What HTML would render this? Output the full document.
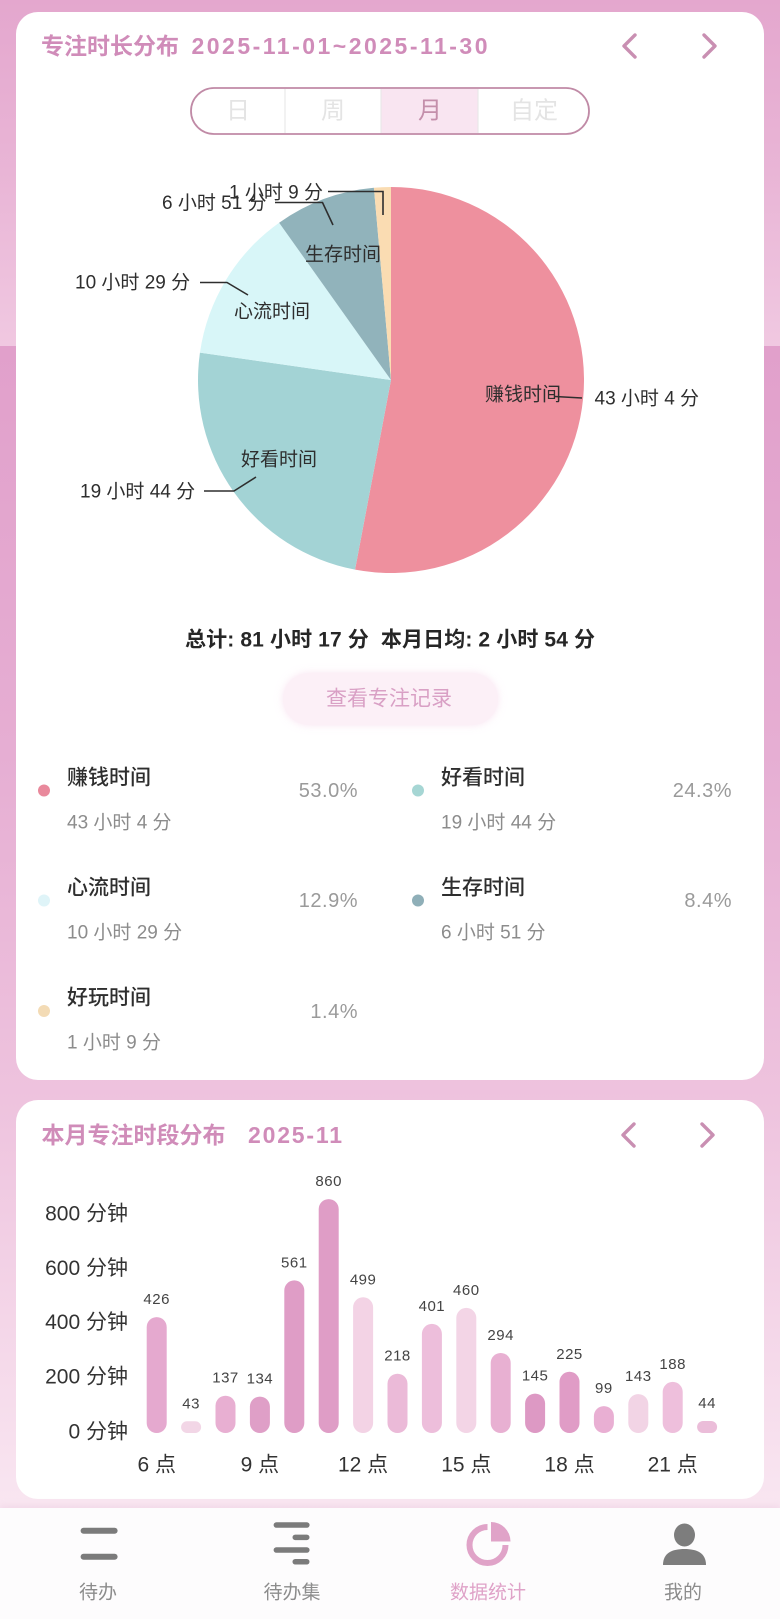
<!DOCTYPE html>
<html>
<head>
<meta charset="utf-8">
<style>
  html, body { margin:0; padding:0; }
  body {
    width:780px; height:1619px; overflow:hidden; position:relative;
    font-family:"Liberation Sans","Noto Sans CJK SC",sans-serif;
    background:#f9e6f1;
  }
  .bg1 { position:absolute; left:0; top:0; width:780px; height:346px;
    background:linear-gradient(180deg,#e4a7ce 0%,#e9b5d6 50%,#f0c8e1 100%); }
  .bg2 { position:absolute; left:0; top:346px; width:780px; height:1162px;
    background:linear-gradient(180deg,#e1a0cb 0%,#e6aed3 35%,#eec3de 65%,#f9e6f1 100%); }
  .card { position:absolute; background:#fff; border-radius:22px; }
  .nav { position:absolute; left:0; top:1508px; width:780px; height:111px; background:#fdfcfd;
    box-shadow:0 -2px 6px rgba(230,190,215,0.35); }
  svg { position:absolute; left:0; top:0; }
  text { font-family:"Liberation Sans","Noto Sans CJK SC",sans-serif; }
</style>
</head>
<body>
<div class="bg1"></div>
<div class="bg2"></div>
<div class="card" style="left:16px;top:12px;width:748px;height:1068px;"></div>
<div class="card" style="left:16px;top:1100px;width:748px;height:399px;"></div>
<div class="nav"></div>

<svg width="780" height="1619" viewBox="0 0 780 1619" xmlns="http://www.w3.org/2000/svg">
  <!-- Card 1 title -->
  <text x="41" y="46" font-size="23" font-weight="700" fill="#d08cb9" dominant-baseline="central">专注时长分布</text>
  <text x="191.5" y="46" font-size="23" font-weight="700" fill="#d08cb9" dominant-baseline="central" textLength="296" lengthAdjust="spacing">2025-11-01~2025-11-30</text>
  <polyline points="635,35 624,46 635,57" fill="none" stroke="#c98fb2" stroke-width="3.4" stroke-linecap="round" stroke-linejoin="round"/>
  <polyline points="704,35 715,46 704,57" fill="none" stroke="#c98fb2" stroke-width="3.4" stroke-linecap="round" stroke-linejoin="round"/>

  <!-- Segmented control -->
  <rect x="191" y="88" width="398" height="46" rx="23" fill="#fff" stroke="#c08aa6" stroke-width="1.8"/>
  <rect x="381" y="89" width="97" height="44" fill="#f9e5f1"/>
  <line x1="285" y1="89" x2="285" y2="133" stroke="#e6e6e6" stroke-width="1"/>
  <line x1="381" y1="89" x2="381" y2="133" stroke="#e6e6e6" stroke-width="1"/>
  <line x1="478" y1="89" x2="478" y2="133" stroke="#e6e6e6" stroke-width="1"/>
  <text x="238" y="111" font-size="24" fill="#e4e4e4" text-anchor="middle" dominant-baseline="central">日</text>
  <text x="333" y="111" font-size="24" fill="#e4e4e4" text-anchor="middle" dominant-baseline="central">周</text>
  <text x="430" y="111" font-size="24" fill="#c48fab" text-anchor="middle" dominant-baseline="central">月</text>
  <text x="534" y="111" font-size="24" fill="#e4e4e4" text-anchor="middle" dominant-baseline="central">自定</text>

  <!-- Pie -->
  <path d="M391,380 L391,187 A193,193 0 1 1 355.04,569.62 Z" fill="#ee909e"/>
  <path d="M391,380 L355.04,569.62 A193,193 0 0 1 199.95,352.67 Z" fill="#a3d3d5"/>
  <path d="M391,380 L199.95,352.67 A193,193 0 0 1 279.13,222.73 Z" fill="#d8f6f8"/>
  <path d="M391,380 L279.13,222.73 A193,193 0 0 1 373.88,187.76 Z" fill="#91b3bb"/>
  <path d="M391,380 L373.88,187.76 A193,193 0 0 1 391,187 Z" fill="#fadcb2"/>

  <!-- Leader lines -->
  <g fill="none" stroke="#2e2e2e" stroke-width="1.6">
    <polyline points="328,191.5 383,191.5 383,215"/>
    <polyline points="275,202.5 322.5,202.5 333,225"/>
    <polyline points="200,282.5 227,282.5 248,295"/>
    <polyline points="204,491 234,491 256,477"/>
    <polyline points="555,396.5 582,398"/>
  </g>

  <!-- Pie labels -->
  <g font-size="19" fill="#2e2e2e" dominant-baseline="central">
    <text x="162" y="203.5">6 小时 51 分</text>
    <text x="229" y="193">1 小时 9 分</text>
    <text x="305" y="255">生存时间</text>
    <text x="75" y="283">10 小时 29 分</text>
    <text x="234" y="312">心流时间</text>
    <text x="485" y="395">赚钱时间</text>
    <text x="594.5" y="399">43 小时 4 分</text>
    <text x="241" y="460">好看时间</text>
    <text x="80" y="492">19 小时 44 分</text>
  </g>

  <!-- Summary -->
  <text x="390" y="640" font-size="21" font-weight="700" fill="#262626" text-anchor="middle" dominant-baseline="central" textLength="410" lengthAdjust="spacing" xml:space="preserve">总计: 81 小时 17 分  本月日均: 2 小时 54 分</text>

  <!-- Button -->
  <rect x="283" y="673" width="215" height="52" rx="26" fill="#fcf0f7" style="filter:drop-shadow(0 0 4px rgba(245,210,232,0.6))"/>
  <text x="389" y="699" font-size="21" fill="#d9a0c5" text-anchor="middle" dominant-baseline="central">查看专注记录</text>

  <!-- Legend -->
  <g dominant-baseline="central">
    <circle cx="44" cy="790.5" r="6" fill="#e9899c"/>
    <text x="67" y="778" font-size="21" font-weight="500" fill="#2e2e2e">赚钱时间</text>
    <text x="67" y="823" font-size="19" fill="#8c8c8c">43 小时 4 分</text>
    <text x="358" y="791" font-size="20" fill="#9a9a9a" text-anchor="end" letter-spacing="0.5">53.0%</text>

    <circle cx="418" cy="790.5" r="6" fill="#a6d6d4"/>
    <text x="441" y="778" font-size="21" font-weight="500" fill="#2e2e2e">好看时间</text>
    <text x="441" y="823" font-size="19" fill="#8c8c8c">19 小时 44 分</text>
    <text x="732" y="791" font-size="20" fill="#9a9a9a" text-anchor="end" letter-spacing="0.5">24.3%</text>

    <circle cx="44" cy="900.5" r="6" fill="#dff4f8"/>
    <text x="67" y="888" font-size="21" font-weight="500" fill="#2e2e2e">心流时间</text>
    <text x="67" y="933" font-size="19" fill="#8c8c8c">10 小时 29 分</text>
    <text x="358" y="901" font-size="20" fill="#9a9a9a" text-anchor="end" letter-spacing="0.5">12.9%</text>

    <circle cx="418" cy="900.5" r="6" fill="#8fafb8"/>
    <text x="441" y="888" font-size="21" font-weight="500" fill="#2e2e2e">生存时间</text>
    <text x="441" y="933" font-size="19" fill="#8c8c8c">6 小时 51 分</text>
    <text x="732" y="901" font-size="20" fill="#9a9a9a" text-anchor="end" letter-spacing="0.5">8.4%</text>

    <circle cx="44" cy="1011" r="6" fill="#f3dbb5"/>
    <text x="67" y="998" font-size="21" font-weight="500" fill="#2e2e2e">好玩时间</text>
    <text x="67" y="1043" font-size="19" fill="#8c8c8c">1 小时 9 分</text>
    <text x="358" y="1012" font-size="20" fill="#9a9a9a" text-anchor="end" letter-spacing="0.5">1.4%</text>
  </g>

  <!-- Card 2 title -->
  <text x="41.5" y="1135" font-size="23" font-weight="700" fill="#d08cb9" dominant-baseline="central">本月专注时段分布</text>
  <text x="248" y="1135" font-size="23" font-weight="700" fill="#d08cb9" dominant-baseline="central" textLength="94" lengthAdjust="spacing">2025-11</text>
  <polyline points="634,1124 623,1135 634,1146" fill="none" stroke="#c98fb2" stroke-width="3.4" stroke-linecap="round" stroke-linejoin="round"/>
  <polyline points="702,1124 713,1135 702,1146" fill="none" stroke="#c98fb2" stroke-width="3.4" stroke-linecap="round" stroke-linejoin="round"/>

  <!-- Y axis labels -->
  <g font-size="21" fill="#333" text-anchor="end" dominant-baseline="central">
    <text x="128" y="1214">800 分钟</text>
    <text x="128" y="1268.5">600 分钟</text>
    <text x="128" y="1322.5">400 分钟</text>
    <text x="128" y="1377">200 分钟</text>
    <text x="128" y="1432">0 分钟</text>
  </g>

  <!-- Bars -->
  <g>
    <rect x="146.7" y="1317.1" width="20" height="115.9" rx="10" fill="#e5a9cf"/>
    <rect x="181.1" y="1421.3" width="20" height="11.7" rx="5.85" fill="#f2d6e6"/>
    <rect x="215.5" y="1395.7" width="20" height="37.3" rx="10" fill="#e8afd2"/>
    <rect x="249.9" y="1396.6" width="20" height="36.4" rx="10" fill="#df9fc7"/>
    <rect x="284.3" y="1280.4" width="20" height="152.6" rx="10" fill="#df9dc6"/>
    <rect x="318.7" y="1199.1" width="20" height="233.9" rx="10" fill="#df9dc6"/>
    <rect x="353.1" y="1297.3" width="20" height="135.7" rx="10" fill="#f3d3e5"/>
    <rect x="387.5" y="1373.7" width="20" height="59.3" rx="10" fill="#ebbad8"/>
    <rect x="421.9" y="1323.9" width="20" height="109.1" rx="10" fill="#edbedb"/>
    <rect x="456.3" y="1307.9" width="20" height="125.1" rx="10" fill="#f3d5e6"/>
    <rect x="490.7" y="1353" width="20" height="80" rx="10" fill="#e8b0d2"/>
    <rect x="525.1" y="1393.6" width="20" height="39.4" rx="10" fill="#dd99c4"/>
    <rect x="559.5" y="1371.8" width="20" height="61.2" rx="10" fill="#e09cc6"/>
    <rect x="593.9" y="1406.1" width="20" height="26.9" rx="10" fill="#e9afd3"/>
    <rect x="628.3" y="1394.1" width="20" height="38.9" rx="10" fill="#f2d4e5"/>
    <rect x="662.7" y="1381.9" width="20" height="51.1" rx="10" fill="#eebfdc"/>
    <rect x="697.1" y="1421" width="20" height="12" rx="6" fill="#ebbdd9"/>
  </g>
  <g font-size="15" fill="#444" text-anchor="middle" dominant-baseline="central" letter-spacing="0.5">
    <text x="156.7" y="1299.6">426</text>
    <text x="191.1" y="1403.8">43</text>
    <text x="225.5" y="1378.2">137</text>
    <text x="259.9" y="1379.1">134</text>
    <text x="294.3" y="1262.9">561</text>
    <text x="328.7" y="1181.6">860</text>
    <text x="363.1" y="1279.8">499</text>
    <text x="397.5" y="1356.2">218</text>
    <text x="431.9" y="1306.4">401</text>
    <text x="466.3" y="1290.4">460</text>
    <text x="500.7" y="1335.5">294</text>
    <text x="535.1" y="1376.1">145</text>
    <text x="569.5" y="1354.3">225</text>
    <text x="603.9" y="1388.6">99</text>
    <text x="638.3" y="1376.6">143</text>
    <text x="672.7" y="1364.4">188</text>
    <text x="707.1" y="1403.5">44</text>
  </g>
  <g font-size="21" fill="#333" text-anchor="middle" dominant-baseline="central">
    <text x="156.7" y="1465">6 点</text>
    <text x="259.9" y="1465">9 点</text>
    <text x="363.1" y="1465">12 点</text>
    <text x="466.3" y="1465">15 点</text>
    <text x="569.5" y="1465">18 点</text>
    <text x="672.7" y="1465">21 点</text>
  </g>

  <!-- Nav icons -->
  <rect x="80.6" y="1527.7" width="37" height="6" rx="3" fill="#7b7b7b"/>
  <rect x="80.6" y="1553.7" width="37" height="6" rx="3" fill="#7b7b7b"/>

  <rect x="273.6" y="1522.3" width="36" height="5.5" rx="2.75" fill="#7b7b7b"/>
  <rect x="292.5" y="1534.6" width="17" height="5.5" rx="2.75" fill="#7b7b7b"/>
  <rect x="273.6" y="1547.3" width="36" height="5.5" rx="2.75" fill="#7b7b7b"/>
  <rect x="292.5" y="1559" width="17" height="5.5" rx="2.75" fill="#7b7b7b"/>

  <path d="M487.5,1527 A18,18 0 1 0 505.5,1545" fill="none" stroke="#e0a3c8" stroke-width="6"/>
  <path d="M491,1541.5 L491,1522 A19.5,19.5 0 0 1 510.5,1541.5 Z" fill="#e0a3c8"/>

  <ellipse cx="684.5" cy="1535" rx="10.5" ry="11.5" fill="#7d7d7d"/>
  <path d="M663,1565 C663,1553 672,1549 684.5,1549 C697,1549 706,1553 706,1565 Z" fill="#7d7d7d"/>

  <g font-size="19" text-anchor="middle" dominant-baseline="central">
    <text x="98" y="1593" fill="#8c8c8c">待办</text>
    <text x="292" y="1593" fill="#8c8c8c">待办集</text>
    <text x="488" y="1593" fill="#dfa2c8">数据统计</text>
    <text x="683" y="1593" fill="#8c8c8c">我的</text>
  </g>
</svg>
</body>
</html>
